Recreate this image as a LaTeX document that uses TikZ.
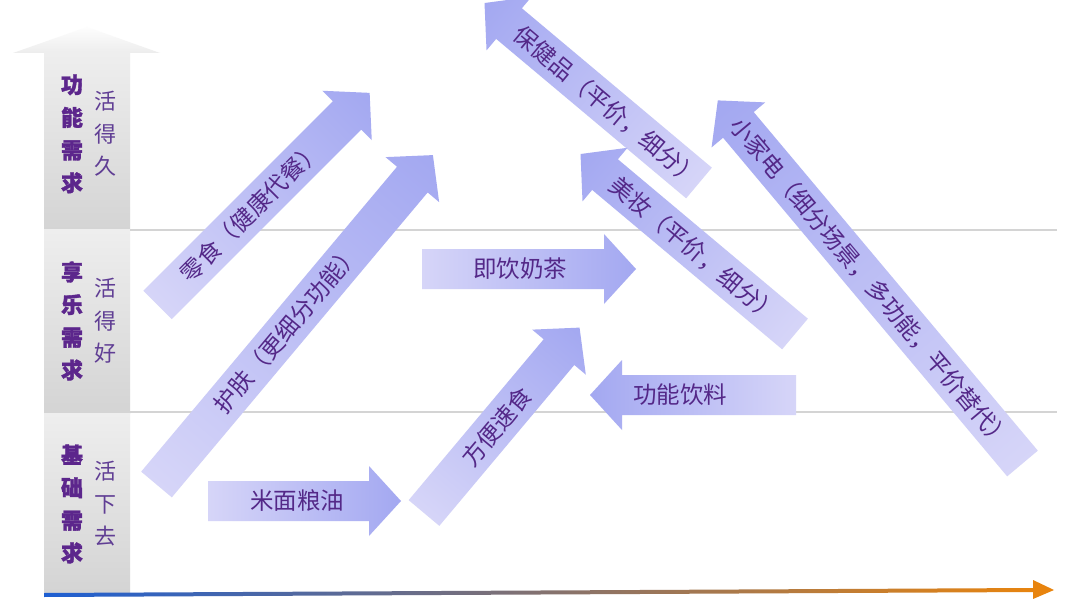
\documentclass[tikz,border=0pt]{standalone}
\usepackage{fontspec}
\setmainfont{Noto Sans CJK SC}[BoldFeatures={FakeBold=1.6}]
\definecolor{headc}{RGB}{163,168,241}
\definecolor{tailc}{RGB}{214,213,248}
\definecolor{txtc}{RGB}{84,40,136}
\definecolor{labc}{RGB}{92,38,140}
\definecolor{lab2c}{RGB}{96,62,148}
\definecolor{gridc}{RGB}{212,212,212}
\definecolor{axblue}{RGB}{30,95,210}
\definecolor{axorange}{RGB}{232,132,14}
\definecolor{gtop}{RGB}{238,238,238}
\definecolor{gbot}{RGB}{212,212,212}
\tikzset{
  arrowtext/.style={text=txtc, font=\fontsize{23.5}{25}\selectfont, inner sep=0pt},
  shR/.style={left color=tailc, right color=headc, draw=none},
  shL/.style={left color=headc, right color=tailc, draw=none},
  labb/.style={text=labc, align=center, inner sep=0pt, font=\fontsize{22}{32.7}\selectfont\bfseries},
  labr/.style={text=lab2c, align=center, inner sep=0pt, font=\fontsize{22}{32.5}\selectfont},
  gridline/.style={draw=gridc, line width=1.5pt},
  colseg/.style={top color=gtop, bottom color=gbot, draw=none},
}
\newcommand{\arrowR}[6]{%
  \begin{scope}[transform canvas={shift={(#2)},rotate=#3}]
    \pgfmathsetmacro\bodyl{#4}\pgfmathsetmacro\tipl{#4+32}
    \shade[shR] (0,-20) -- (\bodyl,-20) -- (\bodyl,-35) -- (\tipl,0) -- (\bodyl,35) -- (\bodyl,20) -- (0,20) -- cycle;
    \node[arrowtext] (#1) at (#5,0) {#6};
  \end{scope}}
\newcommand{\arrowL}[6]{%
  \begin{scope}[transform canvas={shift={(#2)},rotate=#3}]
    \pgfmathsetmacro\bodyl{-#4}\pgfmathsetmacro\tipl{-#4-32}
    \shade[shL] (0,-20) -- (\bodyl,-20) -- (\bodyl,-35) -- (\tipl,0) -- (\bodyl,35) -- (\bodyl,20) -- (0,20) -- cycle;
    \node[arrowtext] (#1) at (-#5,0) {#6};
  \end{scope}}
\begin{document}
\begin{tikzpicture}[x=1pt,y=-1pt]
\useasboundingbox[fill=white] (0,0) rectangle (1080,599);
% left column
\shade[top color=white!90!gtop, bottom color=gtop!95!gbot] (13,53) -- (87,27) -- (160,53) -- cycle;
\shade[colseg] (44,53) rectangle (130,230);
\shade[colseg] (44,230) rectangle (130,413);
\shade[colseg] (44,413) rectangle (130,592);
% grid lines
\coordinate (g1a) at (130,230); \coordinate (g1b) at (1057,230);
\coordinate (g2a) at (130,412); \coordinate (g2b) at (1057,412);
\draw[gridline] (g1a) -- (g1b);
\draw[gridline] (g2a) -- (g2b);
% labels
\node[labb] (gn) at (72,134) {功\\能\\需\\求};
\node[labr] (hdj) at (105,134) {活\\得\\久};
\node[labb] (xl) at (72,321) {享\\乐\\需\\求};
\node[labr] (hdh) at (105,321) {活\\得\\好};
\node[labb] (jc) at (72,504) {基\\础\\需\\求};
\node[labr] (hxq) at (105,504) {活\\下\\去};
% bottom axis
\shade[left color=axblue, right color=axorange] (44,593) -- (1036,588) -- (1036,592) -- (44,597) -- cycle;
\fill[axorange] (1033,580) -- (1054,590) -- (1033,599) -- cycle;
% arrows
\arrowR{lingshi}{157.5,305}{45}{268}{132}{零食（健康代餐）}
\arrowR{hufu}{156.5,484.5}{50}{398}{203}{护肤（更细分功能）}
\arrowR{fangbian}{424,513}{50}{210}{113}{方便速食}
\arrowR{mimian}{208,501}{0}{161}{89}{米面粮油}
\arrowR{naicha}{422,269}{0}{182}{98}{即饮奶茶}
\arrowL{yinliao}{796,395}{0}{174}{116}{功能饮料}
\arrowL{baojian}{699,183}{-40}{248}{120}{保健品（平价，细分）}
\arrowL{meizhuang}{795,334}{-40}{248}{131}{美妆（平价，细分）}
\arrowL{xiaojiadian}{1022.5,463.5}{-50}{442}{236}{小家电（细分场景，多功能，平价替代）}
\end{tikzpicture}
\end{document}
